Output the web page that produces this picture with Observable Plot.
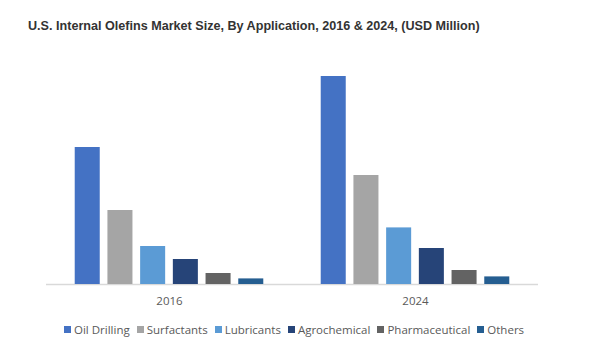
<!DOCTYPE html>
<html><head><meta charset="utf-8">
<script src="https://cdn.jsdelivr.net/npm/d3@7"></script>
<script src="https://cdn.jsdelivr.net/npm/@observablehq/plot@0.6"></script>
<style>
body{margin:0;background:#fff;width:601px;height:354px;position:relative;overflow:hidden}
#title{position:absolute;left:28px;top:19px;font:bold 12.6px "Liberation Sans",Arial,sans-serif;color:#333;white-space:nowrap}
#chart{position:absolute;left:0;top:44px}
#legend{position:absolute;left:64px;top:322px}
.lg-swatches{min-height:0 !important;margin:0 !important}
.lg-swatch{margin-right:7px !important}
.lg-swatch > svg{margin-right:3px !important}
</style></head><body>
<div id="title">U.S. Internal Olefins Market Size, By Application, 2016 &amp; 2024, (USD Million)</div>
<div id="chart"></div><div id="legend"></div>
<script>
const years = ["2016","2024"];
const applications = ["Oil Drilling","Surfactants","Lubricants","Agrochemical","Pharmaceutical","Others"];
const values2016 = [137,74,38,25,11,5.6];
const values2024 = [208,109,56.6,36,14,7.6];
const colors = ["#4472C4","#A5A5A5","#5B9BD5","#264478","#636363","#255E91"];
const data = [];
applications.forEach((a,i)=>{
  data.push({year:years[0],app:a,value:values2016[i]});
  data.push({year:years[1],app:a,value:values2024[i]});
});
const chart = Plot.plot({
  width:601, height:266, marginLeft:46, marginRight:63, marginTop:0, marginBottom:26,
  style:{fontFamily:'"Open Sans",sans-serif', fontSize:"11.5px", color:"#595959", background:"transparent"},
  fx:{domain:years, padding:0, label:null, tickSize:0, tickPadding:12, axis:"bottom"},
  x:{domain:applications, paddingInner:0.235, paddingOuter:0.878, round:false, axis:null},
  y:{domain:[0,240], axis:null},
  color:{domain:applications, range:colors},
  marks:[
    Plot.ruleY([0],{stroke:"#d9d9d9", strokeWidth:1.5}),
    Plot.barY(data,{fx:"year", x:"app", y:"value", fill:"app"})
  ]
});
document.getElementById("chart").appendChild(chart);
const legend = Plot.legend({
  color:{domain:applications, range:colors},
  swatchSize:7, className:"lg",
  style:{fontFamily:'"Open Sans",sans-serif', fontSize:"11.5px", color:"#595959"}
});
document.getElementById("legend").appendChild(legend);
</script>
</body></html>
